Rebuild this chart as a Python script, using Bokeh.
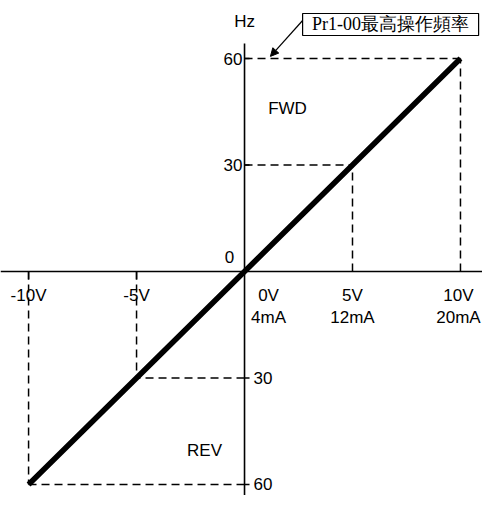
from bokeh.plotting import figure
from bokeh.models import ColumnDataSource, Range1d, Arrow, NormalHead
from bokeh.core.properties import value
from bokeh.embed import file_html
from bokeh.resources import INLINE

# ---- data ----
volts = [-10, -5, 0, 5, 10]
freq = [-60, -30, 0, 30, 60]
volt_labels = ["-10V", "-5V", "0V", "5V", "10V"]
ma_labels = ["", "", "4mA", "12mA", "20mA"]
freq_tick_labels = ["60", "30", "0", "30", "60"]
unit_label = "Hz"
fwd_label = "FWD"
rev_label = "REV"
callout_text = "Pr1-00最高操作頻率"

W, H = 482, 495
x0, x1 = -11.30, 11.02
y0, y1 = -63.10, 76.34
pxx = (x1 - x0) / W   # data units per px (x)
pxy = (y1 - y0) / H   # data units per px (y)

p = figure(width=W, height=H, output_backend="svg", toolbar_location=None,
           x_range=Range1d(x0, x1), y_range=Range1d(y0, y1), min_border=0)
p.axis.visible = False
p.grid.visible = False
p.outline_line_color = None
p.background_fill_color = "white"

FONT = value("Liberation Sans")
FS = "17px"

# axes
p.segment(x0=[x0], y0=[0], x1=[x1], y1=[0], line_color="black", line_width=1.6)
p.segment(x0=[0], y0=[64.2], x1=[0], y1=[y0], line_color="black", line_width=1.6)

# dashed guides
hx0, hy0, hx1, hy1 = [], [], [], []
for v, f in zip(volts, freq):
    if v == 0:
        continue
    hx0 += [0, v]; hy0 += [f, 0]; hx1 += [v, v]; hy1 += [f, f]
p.segment(x0=hx0, y0=hy0, x1=hx1, y1=hy1, line_color="black",
          line_width=1.5, line_dash="8 5")

# ticks on vertical axis (to the right) at nonzero freqs
tf = [f for f in freq if f != 0]
p.segment(x0=[0] * len(tf), y0=tf, x1=[5 * pxx] * len(tf), y1=tf,
          line_color="black", line_width=1.5)
# ticks on horizontal axis below for negative volts
tv = [v for v in volts if v < 0]
p.segment(x0=tv, y0=[0] * len(tv), x1=tv, y1=[-8 * pxy] * len(tv),
          line_color="black", line_width=1.5)

# main characteristic line
p.line(x=volts, y=freq, line_color="black", line_width=5.5)

# voltage labels
vdx = [24 if v == 0 else (-2 if v == max(volts) else 0) for v in volts]
src = ColumnDataSource(dict(x=volts, y=[0] * 5, t=volt_labels, m=ma_labels, dx=vdx))
p.text(x="x", y="y", text="t", source=src, x_offset="dx", y_offset=24,
       text_align="center", text_baseline="middle", text_font=FONT,
       text_font_size=FS, text_color="black")
p.text(x="x", y="y", text="m", source=src, x_offset="dx", y_offset=46,
       text_align="center", text_baseline="middle", text_font=FONT,
       text_font_size=FS, text_color="black")

# frequency labels
pos = [(f, t) for f, t in zip(freq, freq_tick_labels) if f > 0]
p.text(x=[0] * len(pos), y=[a for a, _ in pos], text=[b for _, b in pos],
       x_offset=-2, text_align="right", text_baseline="middle",
       text_font=FONT, text_font_size=FS, text_color="black")
neg = [(f, t) for f, t in zip(freq, freq_tick_labels) if f < 0]
p.text(x=[0] * len(neg), y=[a for a, _ in neg], text=[b for _, b in neg],
       x_offset=9, text_align="left", text_baseline="middle",
       text_font=FONT, text_font_size=FS, text_color="black")
zero = [t for f, t in zip(freq, freq_tick_labels) if f == 0]
p.text(x=[0], y=[0], text=zero, x_offset=-15, y_offset=-15,
       text_align="center", text_baseline="middle",
       text_font=FONT, text_font_size=FS, text_color="black")

# unit, regions
p.text(x=[0], y=[70.4], text=[unit_label], text_align="center",
       text_baseline="middle", text_font=FONT, text_font_size=FS, text_color="black")
p.text(x=[1.99], y=[45.9], text=[fwd_label], text_align="center",
       text_baseline="middle", text_font=FONT, text_font_size=FS, text_color="black")
p.text(x=[-1.85], y=[-50.5], text=[rev_label], text_align="center",
       text_baseline="middle", text_font=FONT, text_font_size=FS, text_color="black")

# callout box
bx0, bx1, by0, by1 = 2.69, 10.84, 66.48, 72.68
p.quad(left=[bx0], right=[bx1], bottom=[by0], top=[by1], fill_color="white",
       line_color="black", line_width=1.2)
p.text(x=[(bx0 + bx1) / 2], y=[(by0 + by1) / 2], text=[callout_text],
       text_align="center", text_baseline="middle",
       text_font=value("Liberation Serif"), text_font_size="18px", text_color="black")
p.add_layout(Arrow(end=NormalHead(size=8, fill_color="black", line_color="black"),
                   x_start=bx0, y_start=70.7, x_end=1.2, y_end=60.6,
                   line_color="black", line_width=1.2))

open("out.html", "w").write(file_html(p, INLINE))
